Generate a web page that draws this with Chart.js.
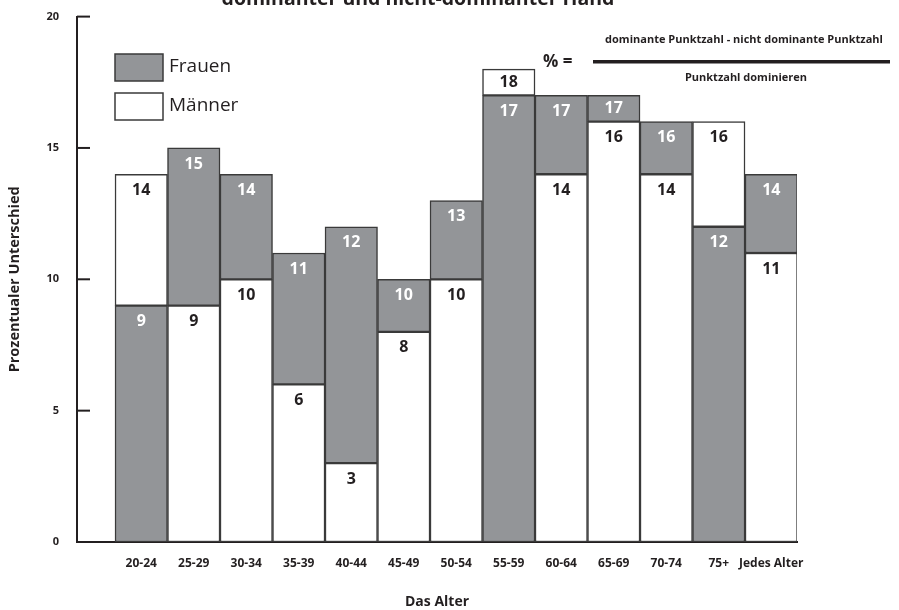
<!DOCTYPE html>
<html>
<head>
<meta charset="utf-8">
<script src="https://cdn.jsdelivr.net/npm/chart.js@4"></script>
<style>
  html, body { margin: 0; padding: 0; background: #fff; }
  #wrap { width: 899px; height: 610px; position: relative; }
</style>
</head>
<body>
<div id="wrap"><canvas id="chart"></canvas></div>
<script>
// Data
const ageGroups = ['20-24', '25-29', '30-34', '35-39', '40-44', '45-49', '50-54', '55-59', '60-64', '65-69', '70-74', '75+', 'Jedes Alter'];
const frauen = [9, 15, 14, 11, 12, 10, 13, 17, 17, 17, 16, 12, 14];
const maenner = [14, 9, 10, 6, 3, 8, 10, 18, 14, 16, 14, 16, 11];
const yTicks = [0, 5, 10, 15, 20];

const FONT = '"Open Sans", "Noto Sans", sans-serif';
const GRAY = '#939598';
const DARK = '#231f20';
const EDGE = '#3a3a3a';

// overlapping bars: the larger one sits behind, so only its upper part shows
const floatBars = (a, b) => a.map((v, i) => ({ x: i, y: v > b[i] ? [b[i], v] : [0, v] }));

const barLabels = {
    id: 'barLabels',
    afterDatasetsDraw(chart) {
        const ctx = chart.ctx;
        const vals = [frauen, maenner];
        ctx.save();
        ctx.font = 'bold 16px ' + FONT;
        ctx.textAlign = 'center';
        ctx.textBaseline = 'middle';
        chart.data.datasets.forEach((ds, di) => {
            ctx.fillStyle = ds.labelColor;
            chart.getDatasetMeta(di).data.forEach((bar, i) => {
                const h = bar.base - bar.y;
                ctx.fillText(String(vals[di][i]), bar.x, bar.y + Math.min(16, h / 2));
            });
        });
        ctx.restore();
    }
};

const decorations = {
    id: 'decorations',
    afterDraw(chart) {
        const ctx = chart.ctx;
        const area = chart.chartArea;
        const y = chart.scales.y;
        ctx.save();

        // inward tick marks
        ctx.strokeStyle = DARK;
        ctx.lineWidth = 2;
        yTicks.forEach(v => {
            const py = y.getPixelForValue(v);
            ctx.beginPath();
            ctx.moveTo(area.left, py);
            ctx.lineTo(area.left + 13, py);
            ctx.stroke();
        });

        // title (cut at the top edge)
        ctx.fillStyle = DARK;
        ctx.textAlign = 'center';
        ctx.textBaseline = 'middle';
        ctx.font = 'bold 19.5px ' + FONT;
        ctx.fillText('dominanter und nicht-dominanter Hand', 418, -1);

        // legend
        const items = [['Frauen', GRAY], ['Männer', '#fff']];
        items.forEach(([txt, col], k) => {
            const top = 54 + k * 39;
            ctx.fillStyle = col;
            ctx.fillRect(115, top, 48, 27);
            ctx.strokeStyle = EDGE;
            ctx.lineWidth = 1.5;
            ctx.strokeRect(115, top, 48, 27);
            ctx.fillStyle = DARK;
            ctx.textAlign = 'left';
            ctx.font = '19px ' + FONT;
            ctx.fillText(txt, 169, top + 13);
        });

        // formula
        ctx.fillStyle = DARK;
        ctx.textAlign = 'left';
        ctx.font = 'bold 17px ' + FONT;
        ctx.fillText('% =', 543, 62);
        ctx.fillRect(593, 60, 297, 3.5);
        ctx.textAlign = 'center';
        ctx.font = 'bold 11px ' + FONT;
        ctx.fillText('dominante Punktzahl - nicht dominante Punktzahl', 744, 40);
        ctx.fillText('Punktzahl dominieren', 746, 78);

        ctx.restore();
    }
};

new Chart(document.getElementById('chart'), {
    type: 'bar',
    data: {
        datasets: [
            {
                label: 'Frauen',
                data: floatBars(frauen, maenner),
                backgroundColor: GRAY,
                labelColor: '#fff'
            },
            {
                label: 'Männer',
                data: floatBars(maenner, frauen),
                backgroundColor: '#fff',
                labelColor: DARK
            }
        ]
    },
    options: {
        responsive: true,
        maintainAspectRatio: false,
        animation: false,
        grouped: false,
        categoryPercentage: 1,
        barPercentage: 1,
        borderColor: EDGE,
        borderWidth: 1.5,
        borderSkipped: false,
        layout: { padding: { top: 15, right: 102, left: 0, bottom: 0 } },
        plugins: {
            legend: { display: false },
            tooltip: { enabled: false }
        },
        scales: {
            x: {
                type: 'linear',
                offset: false,
                min: -1.224,
                max: 12.49,
                afterFit: s => { s.height = 68; },
                afterBuildTicks: s => { s.ticks = ageGroups.map((_, i) => ({ value: i })); },
                ticks: {
                    autoSkip: false,
                    maxRotation: 0,
                    padding: 6,
                    color: DARK,
                    font: { family: FONT, size: 12, weight: 'bold' },
                    callback: v => ageGroups[v] ?? ''
                },
                grid: { display: false },
                border: { display: true, color: DARK, width: 2 },
                title: {
                    display: true,
                    text: 'Das Alter',
                    color: DARK,
                    font: { family: FONT, size: 14, weight: 'bold' },
                    padding: { top: 0, bottom: 0 }
                }
            },
            y: {
                min: 0,
                max: 20,
                afterFit: s => { s.width = 77; },
                afterBuildTicks: s => { s.ticks = yTicks.map(v => ({ value: v })); },
                ticks: {
                    padding: 10,
                    color: DARK,
                    font: { family: FONT, size: 11, weight: 'bold' }
                },
                grid: { display: false },
                border: { display: true, color: DARK, width: 2 },
                title: {
                    display: true,
                    text: 'Prozentualer Unterschied',
                    color: DARK,
                    font: { family: FONT, size: 14.5, weight: 'bold' },
                    padding: { top: 6, bottom: 0 }
                }
            }
        }
    },
    plugins: [barLabels, decorations]
});
</script>
</body>
</html>
